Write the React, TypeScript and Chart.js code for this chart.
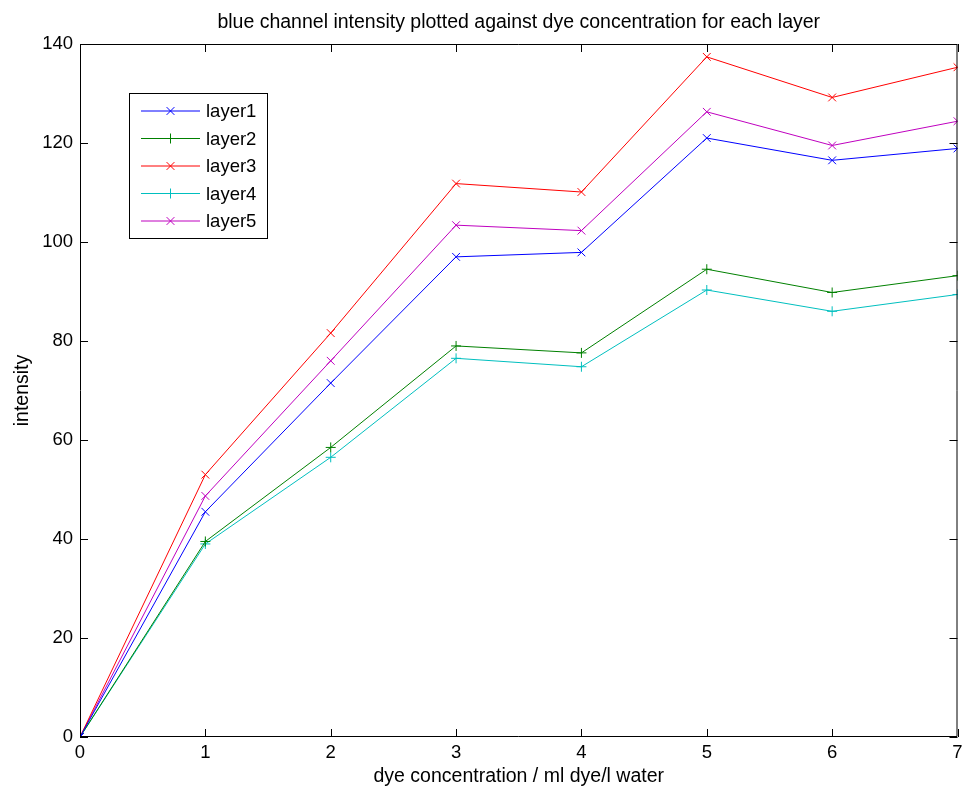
import React, { useEffect, useRef } from "react";
import { Chart, registerables } from "chart.js";

Chart.register(...registerables);

const concentrations = [0, 1, 2, 3, 4, 5, 6, 7];
const layer1 = [0, 45.5, 71.5, 97.0, 97.9, 121.0, 116.5, 118.9];
const layer2 = [0, 39.5, 58.5, 79.0, 77.6, 94.5, 89.8, 93.2];
const layer3 = [0, 53.0, 81.6, 111.8, 110.1, 137.4, 129.2, 135.3];
const layer4 = [0, 39.0, 56.5, 76.5, 74.8, 90.3, 86.0, 89.4];
const layer5 = [0, 48.7, 76.0, 103.4, 102.3, 126.3, 119.5, 124.4];
const seriesNames = ["layer1", "layer2", "layer3", "layer4", "layer5"];
const seriesColors = ["#0000ff", "#008000", "#ff0000", "#00bfbf", "#bf00bf"];
const seriesMarkers = ["crossRot", "cross", "crossRot", "cross", "crossRot"];
const yTicks = [0, 20, 40, 60, 80, 100, 120, 140];
const xTicks = [0, 1, 2, 3, 4, 5, 6, 7];

const FONT = "'Liberation Sans', Arial, Helvetica, sans-serif";

const framePlugin = {
  id: "frameTicks",
  afterDatasetsDraw(chart: any) {
    const { ctx, chartArea, scales } = chart;
    const { left, right, top, bottom } = chartArea;
    ctx.save();
    ctx.strokeStyle = "#000";
    ctx.lineWidth = 1;
    ctx.beginPath();
    ctx.rect(left + 0.5, top + 0.5, right - left - 1, bottom - top - 1);
    ctx.stroke();
    const tl = 8;
    ctx.beginPath();
    for (const v of xTicks) {
      const x = Math.round(scales.x.getPixelForValue(v)) + 0.5;
      ctx.moveTo(x, bottom);
      ctx.lineTo(x, bottom - tl);
      ctx.moveTo(x, top);
      ctx.lineTo(x, top + tl);
    }
    for (const v of yTicks) {
      const y = Math.round(scales.y.getPixelForValue(v)) + 0.5;
      ctx.moveTo(left, y);
      ctx.lineTo(left + tl, y);
      ctx.moveTo(right, y);
      ctx.lineTo(right - tl, y);
    }
    ctx.stroke();
    ctx.restore();
  },
};

const legendPlugin = {
  id: "insideLegend",
  afterDraw(chart: any) {
    const { ctx, chartArea } = chart;
    const bx = chartArea.left + 49;
    const by = chartArea.top + 49;
    const bw = 138;
    const bh = 145;
    ctx.save();
    ctx.fillStyle = "#fff";
    ctx.fillRect(bx, by, bw, bh);
    ctx.strokeStyle = "#000";
    ctx.lineWidth = 1;
    ctx.strokeRect(bx + 0.5, by + 0.5, bw, bh);
    chart.data.datasets.forEach((ds: any, i: number) => {
      const cy = by + 18 + i * 27.5;
      ctx.strokeStyle = ds.borderColor;
      ctx.lineWidth = 1;
      ctx.beginPath();
      ctx.moveTo(bx + 12, cy);
      ctx.lineTo(bx + 71, cy);
      ctx.stroke();
      ctx.beginPath();
      const cx = bx + 41.5;
      if (ds.pointStyle === "cross") {
        const r = 5;
        ctx.moveTo(cx - r, cy);
        ctx.lineTo(cx + r, cy);
        ctx.moveTo(cx, cy - r);
        ctx.lineTo(cx, cy + r);
      } else {
        const r = 3.9;
        ctx.moveTo(cx - r, cy - r);
        ctx.lineTo(cx + r, cy + r);
        ctx.moveTo(cx - r, cy + r);
        ctx.lineTo(cx + r, cy - r);
      }
      ctx.stroke();
      ctx.fillStyle = "#000";
      ctx.font = `18.5px ${FONT}`;
      ctx.textBaseline = "middle";
      ctx.textAlign = "left";
      ctx.fillText(ds.label, bx + 77, cy + 1);
    });
    ctx.restore();
  },
};

export default function App() {
  const ref = useRef<HTMLCanvasElement>(null);
  useEffect(() => {
    document.body.style.margin = "0";
    const all = [layer1, layer2, layer3, layer4, layer5];
    const chart = new Chart(ref.current!, {
      type: "line",
      data: {
        datasets: all.map((vals, i) => ({
          label: seriesNames[i],
          data: concentrations.map((c, j) => ({ x: c, y: vals[j] })),
          borderColor: seriesColors[i],
          backgroundColor: seriesColors[i],
          borderWidth: 1,
          pointStyle: seriesMarkers[i] as any,
          pointRadius: seriesMarkers[i] === "cross" ? 5 : 5.5,
          pointBorderWidth: 1,
          pointBorderColor: seriesColors[i],
          tension: 0,
          fill: false,
        })),
      },
      options: {
        animation: false,
        responsive: false,
        layout: { padding: { right: 5, left: 0, top: 0, bottom: 0 } },
        plugins: {
          legend: { display: false },
          tooltip: { enabled: false },
          title: {
            display: true,
            fullSize: false,
            text: "blue channel intensity plotted against dye concentration for each layer",
            color: "#000",
            font: { family: FONT, size: 19.5, weight: "normal", lineHeight: 1.2 },
            padding: { top: 11, bottom: 9.6 },
          },
        },
        scales: {
          x: {
            type: "linear",
            min: 0,
            max: 7,
            afterBuildTicks: (s: any) => {
              s.ticks = xTicks.map((v) => ({ value: v }));
            },
            afterFit: (s: any) => {
              s.height = 52;
              s.paddingRight = 0;
              s.paddingLeft = 0;
            },
            grid: { display: false, drawTicks: false },
            border: { display: false },
            ticks: {
              color: "#000",
              padding: 5,
              maxRotation: 0,
              font: { family: FONT, size: 18.5 },
            },
            title: {
              display: true,
              text: "dye concentration / ml dye/l water",
              color: "#000",
              font: { family: FONT, size: 19.5, lineHeight: 1.2 },
              padding: { top: 0, bottom: 1 },
            },
          },
          y: {
            type: "linear",
            min: 0,
            max: 140,
            afterBuildTicks: (s: any) => {
              s.ticks = yTicks.map((v) => ({ value: v }));
            },
            afterFit: (s: any) => {
              s.width = 80;
            },
            grid: { display: false, drawTicks: false },
            border: { display: false },
            ticks: {
              color: "#000",
              padding: 7,
              font: { family: FONT, size: 18.5 },
            },
            title: {
              display: true,
              text: "intensity",
              color: "#000",
              font: { family: FONT, size: 19.5, lineHeight: 1.2 },
              padding: { top: 11, bottom: 0 },
            },
          },
        },
      },
      plugins: [framePlugin, legendPlugin],
    });
    return () => chart.destroy();
  }, []);
  return <canvas ref={ref} width={964} height={789} style={{ display: "block" }} />;
}
